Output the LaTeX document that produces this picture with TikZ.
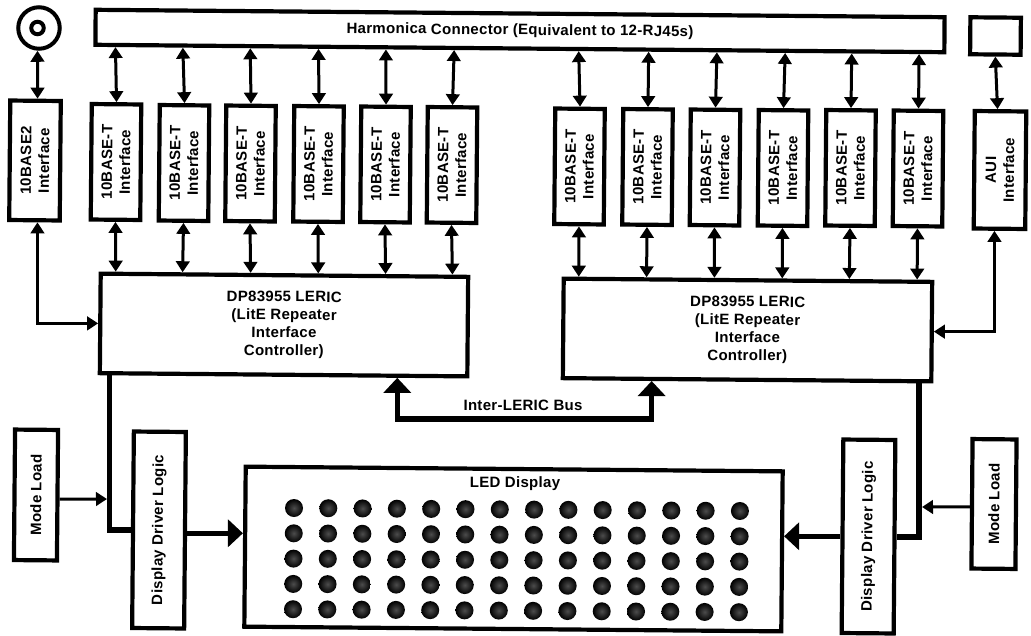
\documentclass[tikz,border=0pt]{standalone}
\usepackage{fontspec}
\setmainfont[LetterSpace=2]{Liberation Sans}
\usetikzlibrary{arrows.meta, calc}

\begin{document}
\begin{tikzpicture}[
    x=1pt, y=-1pt,
    >={Triangle[length=11pt, width=13.5pt]},
    every node/.style={font=\fontsize{15}{18}\selectfont\bfseries},
    hbox/.style={draw, line width=4.2pt, rotate=-0.5, align=center},
    vbox/.style={draw, line width=4.2pt, rotate=89.5, align=center},
    ifbox/.style={vbox, minimum width=115.5pt, minimum height=49.5pt},
    led/.style={circle, minimum size=18pt, inner sep=0pt, shading=radial, inner color=black!70, outer color=black},
    arrow/.style={<->, line width=3pt},
    onearrow/.style={->, line width=3pt},
    bus/.style={line width=5.5pt},
    busarrow/.style={line width=5.5pt, >={Triangle[length=15pt, width=27pt]}},
]
\useasboundingbox (0,0) rectangle (1031,635);

% ── Connectors on top of the board ──
\node[hbox, minimum width=849pt, minimum height=35pt] (harmonica) at (520,31)
    {Harmonica Connector (Equivalent to 12-RJ45s)};
\node[circle, draw, line width=4pt, minimum size=41.5pt, inner sep=0pt] (bnc) at (39,28) {};
\node[circle, draw, line width=4pt, minimum size=12.5pt, inner sep=0pt] (bncpin) at (37.5,28) {};
\node[hbox, minimum width=50.5pt, minimum height=37pt] (auiport) at (995.5,36) {};

% ── Left interfaces ──
\node[vbox, minimum width=119.5pt, minimum height=50.5pt] (base2) at (35,160.5) {10BASE2\\Interface};
\node[ifbox] (tl1) at (116,162) {10BASE-T\\Interface};
\node[ifbox] (tl2) at (184,163) {10BASE-T\\Interface};
\node[ifbox] (tl3) at (250.5,163.5) {10BASE-T\\Interface};
\node[ifbox] (tl4) at (318.5,164) {10BASE-T\\Interface};
\node[ifbox] (tl5) at (385.5,164.5) {10BASE-T\\Interface};
\node[ifbox] (tl6) at (452,165) {10BASE-T\\Interface};

% ── Right interfaces ──
\node[ifbox] (tr1) at (579.5,166.5) {10BASE-T\\Interface};
\node[ifbox] (tr2) at (647.5,167) {10BASE-T\\Interface};
\node[ifbox] (tr3) at (715,167.5) {10BASE-T\\Interface};
\node[ifbox] (tr4) at (783,168) {10BASE-T\\Interface};
\node[ifbox] (tr5) at (850.5,168) {10BASE-T\\Interface};
\node[ifbox] (tr6) at (918,168.5) {10BASE-T\\Interface};
\node[vbox, minimum width=117.5pt, minimum height=51.5pt] (aui) at (1000,170) {AUI\\Interface};

% ── Repeater controllers ──
\node[hbox, minimum width=367.5pt, minimum height=99.5pt] (leric1) at (284,325)
    {DP83955 LERIC\\(LitE Repeater\\Interface\\Controller)};
\node[hbox, minimum width=368.5pt, minimum height=99.5pt] (leric2) at (747.5,330)
    {DP83955 LERIC\\(LitE Repeater\\Interface\\Controller)};

% ── Display section ──
\node[vbox, minimum width=130.5pt, minimum height=43pt] (model) at (36,495) {Mode Load};
\node[vbox, minimum width=129.5pt, minimum height=44pt] (moder) at (994,504) {Mode Load};
\node[vbox, minimum width=196.5pt, minimum height=52pt] (ddl) at (159,530) {Display Driver Logic};
\node[vbox, minimum width=193.5pt, minimum height=52pt] (ddr) at (868.5,536.5) {Display Driver Logic};
\node[hbox, minimum width=537pt, minimum height=160pt] (leddisp) at (513.5,549) {};
\node (ledtitle) at (515,484) {LED Display};
\foreach \c in {0,...,13}
    \foreach \r in {0,...,4}
        \node[led] (led\c-\r) at ({294+34.3*\c-0.25*\r},{508+25.3*\r+0.23*\c}) {};

% ── Bus label and free ends ──
\node (buslabel) at (523,405) {Inter-LERIC Bus};
\coordinate (busl) at (107,499);
\coordinate (busr) at (922,507);

% ── Arrows: harmonica to interfaces ──
\draw[arrow] ($(harmonica.south west)!0.026!(harmonica.south east)$) -- (tl1.east);
\draw[arrow] ($(harmonica.south west)!0.105!(harmonica.south east)$) -- (tl2.east);
\draw[arrow] ($(harmonica.south west)!0.184!(harmonica.south east)$) -- (tl3.east);
\draw[arrow] ($(harmonica.south west)!0.264!(harmonica.south east)$) -- (tl4.east);
\draw[arrow] ($(harmonica.south west)!0.343!(harmonica.south east)$) -- (tl5.east);
\draw[arrow] ($(harmonica.south west)!0.423!(harmonica.south east)$) -- (tl6.east);
\draw[arrow] ($(harmonica.south west)!0.569!(harmonica.south east)$) -- (tr1.east);
\draw[arrow] ($(harmonica.south west)!0.651!(harmonica.south east)$) -- (tr2.east);
\draw[arrow] ($(harmonica.south west)!0.731!(harmonica.south east)$) -- (tr3.east);
\draw[arrow] ($(harmonica.south west)!0.811!(harmonica.south east)$) -- (tr4.east);
\draw[arrow] ($(harmonica.south west)!0.889!(harmonica.south east)$) -- (tr5.east);
\draw[arrow] ($(harmonica.south west)!0.968!(harmonica.south east)$) -- (tr6.east);
\draw[arrow] ([xshift=-1.5pt]bnc.south) -- ([xshift=2pt]base2.east);
\draw[arrow] (auiport.south) -- ([xshift=-3pt]aui.east);

% ── Arrows: interfaces to controllers ──
\draw[arrow] (tl1.west) -- ($(leric1.north west)!0.046!(leric1.north east)$);
\draw[arrow] (tl2.west) -- ($(leric1.north west)!0.226!(leric1.north east)$);
\draw[arrow] (tl3.west) -- ($(leric1.north west)!0.409!(leric1.north east)$);
\draw[arrow] (tl4.west) -- ($(leric1.north west)!0.591!(leric1.north east)$);
\draw[arrow] (tl5.west) -- ($(leric1.north west)!0.772!(leric1.north east)$);
\draw[arrow] (tl6.west) -- ($(leric1.north west)!0.952!(leric1.north east)$);
\draw[arrow] (tr1.west) -- ($(leric2.north west)!0.046!(leric2.north east)$);
\draw[arrow] (tr2.west) -- ($(leric2.north west)!0.228!(leric2.north east)$);
\draw[arrow] (tr3.west) -- ($(leric2.north west)!0.41!(leric2.north east)$);
\draw[arrow] (tr4.west) -- ($(leric2.north west)!0.592!(leric2.north east)$);
\draw[arrow] (tr5.west) -- ($(leric2.north west)!0.772!(leric2.north east)$);
\draw[arrow] (tr6.west) -- ($(leric2.north west)!0.954!(leric2.north east)$);
\draw[arrow] ([xshift=3pt]base2.west) |- (leric1.west);
\draw[arrow] ([xshift=-5pt]aui.west) |- (leric2.east);

% ── Heavy buses ──
\draw[busarrow, <->] ($(leric1.south west)!0.806!(leric1.south east)$) -- ++(0,41)
    -| ($(leric2.south west)!0.244!(leric2.south east)$);
\draw[bus] ($(leric1.south west)!0.032!(leric1.south east)$) |- (ddl.north);
\draw[bus] ($(leric2.south west)!0.962!(leric2.south east)$) |- (ddr.south);
\draw[busarrow, ->] ([yshift=-3pt]ddl.south) -- ([yshift=-3pt]ddl.south -| leddisp.west);
\draw[busarrow, ->] (ddr.north) -- (ddr.north -| leddisp.east);
\draw[onearrow] ([yshift=-4pt]model.south) -- (busl);
\draw[onearrow] ([yshift=-3pt]moder.north) -- (busr);

\end{tikzpicture}
\end{document}
